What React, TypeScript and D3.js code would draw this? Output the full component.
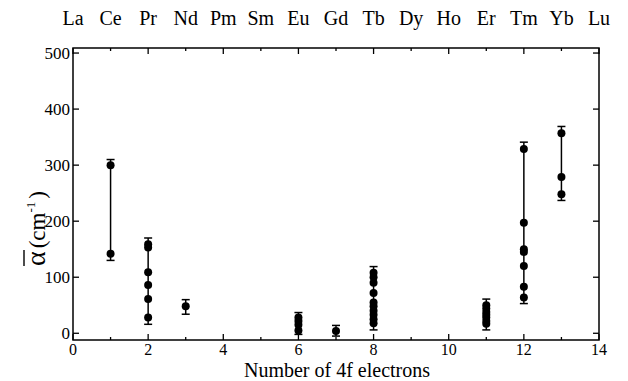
import React from "react";
import * as d3 from "d3";

const elements = ["La", "Ce", "Pr", "Nd", "Pm", "Sm", "Eu", "Gd", "Tb", "Dy", "Ho", "Er", "Tm", "Yb", "Lu"];
const xTicks = [0, 2, 4, 6, 8, 10, 12, 14];
const yTicks = [0, 100, 200, 300, 400, 500];

const electrons = [1, 2, 3, 6, 7, 8, 11, 12, 13];
const pointValues = [
  [300, 142],
  [159, 153, 109, 86, 61, 28],
  [48],
  [28, 22, 15, 5],
  [4],
  [108, 100, 90, 72, 55, 48, 40, 33, 25, 18],
  [50, 44, 38, 33, 28, 22, 17],
  [329, 197, 150, 145, 120, 83, 64],
  [357, 279, 248],
];
const errLow = [130, 16, 34, -2, -5, 6, 6, 53, 237];
const errHigh = [310, 170, 60, 37, 14, 119, 61, 341, 369];

const W = 628;
const H = 381;
const L = 73, R = 599, T = 48, B = 340;

export default function App() {
  const x = d3.scaleLinear().domain([0, 14]).range([L, R]);
  const y = d3.scaleLinear().domain([-12, 509]).range([B, T]);
  const ff = { fontFamily: "Liberation Serif, DejaVu Serif, serif" };
  const ints = d3.range(0, 15);
  return (
    <svg width={W} height={H} style={{ position: "absolute", left: 0, top: 0, ...ff }}>
      <rect width={W} height={H} fill="#fff" />
      {elements.map((e, i) => (
        <text key={e} x={x(i)} y={25} textAnchor="middle" style={ff} fontSize={20} fill="#000">
          {e}
        </text>
      ))}
      <rect x={L} y={T} width={R - L} height={B - T} fill="none" stroke="#000" strokeWidth={1.5} />
      {ints.map((i) => {
        const len = i % 2 === 0 ? 6 : 3;
        return (
          <g key={"xt" + i}>
            <line x1={x(i)} x2={x(i)} y1={B} y2={B - len} stroke="#000" strokeWidth={1.3} />
            <line x1={x(i)} x2={x(i)} y1={T} y2={T + len} stroke="#000" strokeWidth={1.3} />
          </g>
        );
      })}
      {xTicks.map((t) => (
        <text key={"xl" + t} x={x(t)} y={354.5} textAnchor="middle" style={ff} fontSize={16} fill="#000">
          {t}
        </text>
      ))}
      {yTicks.map((t) => (
        <g key={"yt" + t}>
          <line x1={L} x2={L + 6} y1={y(t)} y2={y(t)} stroke="#000" strokeWidth={1.3} />
          <line x1={R} x2={R - 6} y1={y(t)} y2={y(t)} stroke="#000" strokeWidth={1.3} />
          <text x={L - 3} y={y(t) + 6} textAnchor="end" style={ff} fontSize={17} fill="#000">
            {t}
          </text>
        </g>
      ))}
      <text x={337} y={376.5} textAnchor="middle" style={ff} fontSize={20} fill="#000">
        Number of 4f electrons
      </text>
      <g transform="translate(45, 266) rotate(-90)">
        <text x={0} y={0} textAnchor="start" style={ff} fontSize={23} fill="#000">
          <tspan fontSize={28}>α</tspan>
          <tspan dx={3}>(cm</tspan>
          <tspan fontSize={13} dy={-10}>-1</tspan>
          <tspan dy={10} dx={3}>)</tspan>
        </text>
        <line x1={0} x2={16} y1={-21} y2={-21} stroke="#000" strokeWidth={1.4} />
      </g>
      {electrons.map((n, i) => {
        const cx = x(n);
        return (
          <g key={"s" + n}>
            <line x1={cx} x2={cx} y1={y(errLow[i])} y2={y(errHigh[i])} stroke="#000" strokeWidth={1.5} />
            <line x1={cx - 4} x2={cx + 4} y1={y(errLow[i])} y2={y(errLow[i])} stroke="#000" strokeWidth={1.5} />
            <line x1={cx - 4} x2={cx + 4} y1={y(errHigh[i])} y2={y(errHigh[i])} stroke="#000" strokeWidth={1.5} />
            {pointValues[i].map((v, j) => (
              <circle key={j} cx={cx} cy={y(v)} r={4} fill="#000" />
            ))}
          </g>
        );
      })}
    </svg>
  );
}
